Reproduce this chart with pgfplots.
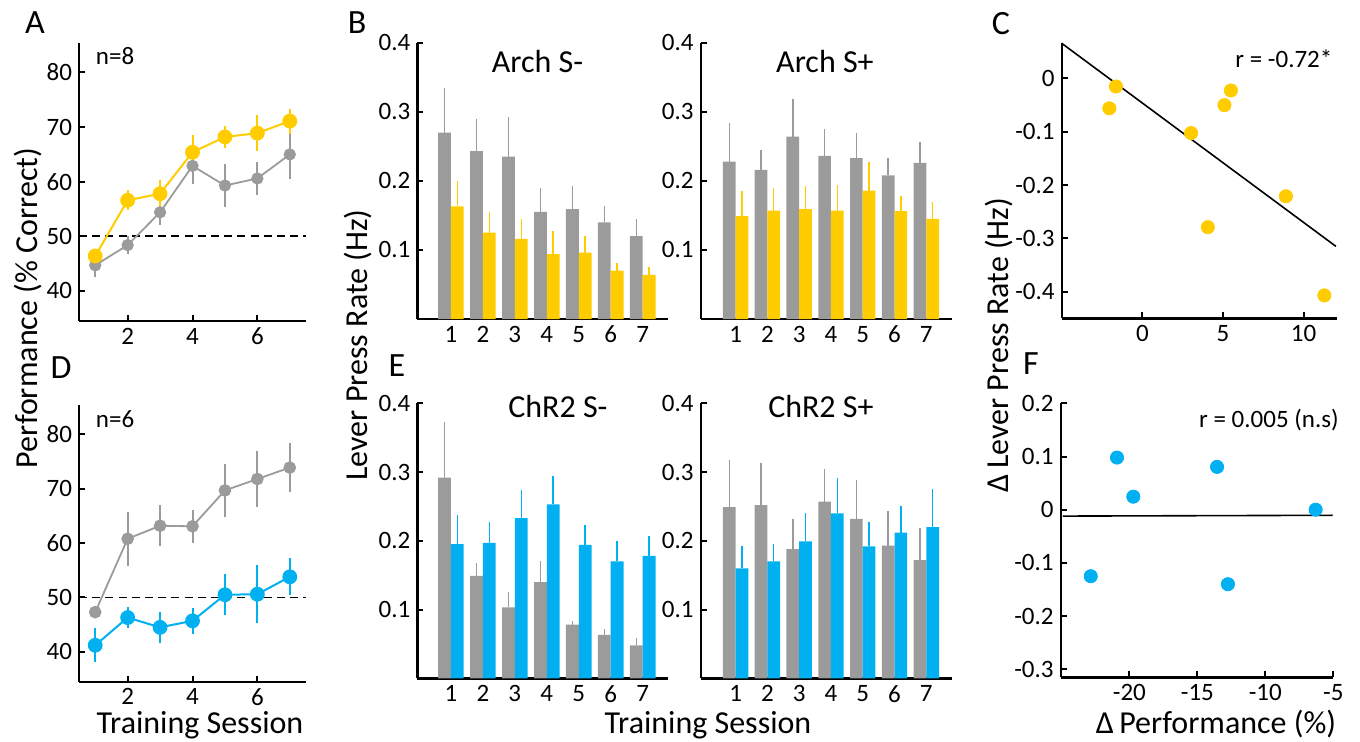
\documentclass[border=0pt]{standalone}
\usepackage{fontspec}
\setmainfont{Carlito}
\usepackage{pgfplots}
\pgfplotsset{compat=1.18}

\definecolor{gold}{RGB}{255,204,0}
\definecolor{sky}{RGB}{0,176,240}
\definecolor{midgray}{RGB}{155,155,155}

\tikzset{
  tbig/.style={font=\fontsize{16}{19}\selectfont},
  tlab/.style={font=\fontsize{17}{20}\selectfont},
  tsmall/.style={font=\fontsize{12.5}{15}\selectfont},
}

\pgfplotsset{
  panel/.style={
    scale only axis, anchor=south west, clip=false,
    axis x line*=bottom, axis y line*=left,
    axis line style={-, line width=1.2pt},
    tick align=inside, major tick length=3pt,
    every tick/.style={black, line width=1pt},
    tick label style={font=\fontsize{12.5}{15}\selectfont},
    /pgf/number format/assume math mode=true,
  },
  perfpanel/.style={panel, width=113.5pt, xmin=0.5, xmax=7.5, ymin=34.5, ymax=85.4,
    xtick={2,4,6}, ytick={40,50,60,70,80}},
  barpanel/.style={panel, width=125.5pt, xmax=7.8, ymin=0, ymax=0.4,
    xtick={1,...,7}, ytick={0.1,0.2,0.3,0.4}, yticklabels={0.1,0.2,0.3,0.4},
    xtick style={draw=none}},
  bars/.style={ybar, bar width=0.4, bar shift=0pt, fill=#1, draw=none,
    error bars/.cd, y dir=plus, y explicit, error mark=none,
    error bar style={#1, line width=0.7pt}},
  perf/.style 2 args={#1, line width=#2, mark=*, mark options={solid, fill=#1, draw=none},
    error bars/.cd, y dir=both, y explicit, error mark=none,
    error bar style={#1, line width=1pt}},
  chance/.style={black, line width=0.9pt, dash pattern=on 4pt off 2.6pt},
  dots/.style={only marks, #1, mark=*, mark size=3.3pt, mark options={fill=#1, draw=#1}},
}

\begin{document}
\begin{tikzpicture}
\path[use as bounding box] (0,0) rectangle (680pt,370.5pt);

% A
\begin{axis}[perfpanel, at={(39.5pt,210pt)}, height=139pt]
\addplot[chance] coordinates {(0.5,50) (7.5,50)};
\addplot[mark size=2.6pt, perf={midgray}{0.9pt}] table[y error=e] {
x y e
1 44.7 2.1
2 48.4 1.7
3 54.4 2.4
4 62.9 3.4
5 59.3 4.0
6 60.6 3.1
7 65.0 4.5
};
\addplot[mark size=3.2pt, perf={gold}{1pt}] table[y error=e] {
x y e
1 46.4 1.0
2 56.6 1.8
3 57.8 2.6
4 65.4 3.2
5 68.2 2.0
6 68.9 3.3
7 71.1 2.3
};
\node[tsmall] at (rel axis cs:0.159,0.954) {n=8};
\end{axis}

% D
\begin{axis}[perfpanel, at={(39.5pt,29.65pt)}, height=138.3pt]
\addplot[chance] coordinates {(0.5,50) (7.5,50)};
\addplot[mark size=2.7pt, perf={midgray}{0.9pt}] table[y error=e] {
x y e
1 47.3 0.8
2 60.8 5.0
3 63.2 3.8
4 63.1 3.0
5 69.7 4.8
6 71.8 5.1
7 73.9 4.5
};
\addplot[mark size=3.2pt, perf={sky}{1pt}] table[y error=e] {
x y e
1 41.2 3.1
2 46.3 2.0
3 44.5 2.9
4 45.7 2.4
5 50.5 3.8
6 50.6 5.3
7 53.8 3.4
};
\node[tsmall] at (rel axis cs:0.159,0.948) {n=6};
\end{axis}

% B left: Arch S-
\begin{axis}[barpanel, xmin=-0.05, at={(208.65pt,211pt)}, height=138.15pt]
\addplot[bars=midgray] table[y error=e] {
x y e
0.8 0.270 0.065
1.8 0.243 0.047
2.8 0.235 0.058
3.8 0.155 0.035
4.8 0.159 0.034
5.8 0.140 0.024
6.8 0.120 0.025
};
\addplot[bars=gold] table[y error=e] {
x y e
1.2 0.163 0.037
2.2 0.125 0.030
3.2 0.116 0.029
4.2 0.094 0.033
5.2 0.096 0.024
6.2 0.070 0.011
7.2 0.064 0.012
};
\node[tbig] at (rel axis cs:0.479,0.932) {Arch S-};
\end{axis}

% B right: Arch S+
\begin{axis}[barpanel, xmin=-0.1, at={(350.35pt,211pt)}, height=138.15pt]
\addplot[bars=midgray] table[y error=e] {
x y e
0.8 0.228 0.056
1.8 0.216 0.029
2.8 0.264 0.054
3.8 0.236 0.039
4.8 0.233 0.037
5.8 0.208 0.025
6.8 0.226 0.030
};
\addplot[bars=gold] table[y error=e] {
x y e
1.2 0.149 0.036
2.2 0.157 0.032
3.2 0.159 0.033
4.2 0.157 0.037
5.2 0.186 0.042
6.2 0.156 0.022
7.2 0.145 0.024
};
\node[tbig] at (rel axis cs:0.495,0.932) {Arch S+};
\end{axis}

% E left: ChR2 S-
\begin{axis}[barpanel, xmin=-0.05, at={(208.65pt,31.35pt)}, height=137.5pt]
\addplot[bars=midgray] table[y error=e] {
x y e
0.8 0.292 0.081
1.8 0.149 0.019
2.8 0.103 0.022
3.8 0.140 0.030
4.8 0.078 0.005
5.8 0.063 0.009
6.8 0.048 0.010
};
\addplot[bars=sky] table[y error=e] {
x y e
1.2 0.195 0.042
2.2 0.197 0.030
3.2 0.233 0.041
4.2 0.253 0.041
5.2 0.194 0.029
6.2 0.170 0.029
7.2 0.178 0.029
};
\node[tbig] at (rel axis cs:0.56,0.99) {ChR2 S-};
\end{axis}

% E right: ChR2 S+
\begin{axis}[barpanel, xmin=-0.1, at={(350.35pt,31.35pt)}, height=137.5pt]
\addplot[bars=midgray] table[y error=e] {
x y e
0.8 0.249 0.068
1.8 0.252 0.061
2.8 0.188 0.043
3.8 0.257 0.048
4.8 0.232 0.057
5.8 0.193 0.051
6.8 0.172 0.046
};
\addplot[bars=sky] table[y error=e] {
x y e
1.2 0.160 0.032
2.2 0.170 0.026
3.2 0.199 0.042
4.2 0.240 0.052
5.2 0.192 0.035
6.2 0.212 0.039
7.2 0.220 0.056
};
\node[tbig] at (rel axis cs:0.479,0.99) {ChR2 S+};
\end{axis}

% C
\begin{axis}[panel, at={(530.85pt,211.35pt)}, width=137.5pt, height=137.5pt,
  xmin=-5, xmax=12.05, ymin=-0.45, ymax=0.066,
  xtick={0,5,10}, ytick={-0.4,-0.3,-0.2,-0.1,0},
  yticklabels={-0.4,-0.3,-0.2,-0.1,0}]
\addplot[black, line width=0.8pt] coordinates {(-5,0.066) (12,-0.315)};
\addplot[dots=gold] table {
x y
-1.64 -0.015
-2.05 -0.056
3.02 -0.1025
5.09 -0.050
5.49 -0.0225
4.06 -0.279
8.90 -0.221
11.28 -0.407
};
\node[tsmall] at (rel axis cs:0.808,0.945) {r = -0.72*};
\end{axis}

% F
\begin{axis}[panel, at={(530.35pt,31.85pt)}, width=136.3pt, height=137pt,
  xmin=-25.05, xmax=-5, ymin=-0.315, ymax=0.2,
  xtick={-20,-15,-10,-5}, xticklabels={-20,-15,-10,-5},
  ytick={-0.3,-0.2,-0.1,0,0.1,0.2},
  yticklabels={-0.3,-0.2,-0.1,0,0.1,0.2}]
\addplot[black, line width=0.8pt] coordinates {(-24.9,-0.012) (-5.05,-0.0105)};
\addplot[dots=sky] table {
x y
-22.84 -0.125
-20.91 0.098
-19.71 0.0245
-13.55 0.0805
-12.75 -0.140
-6.30 0.000
};
\node[tsmall] at (rel axis cs:0.764,0.939) {r = 0.005 (n.s)};
\end{axis}

% axis labels
\node[tbig, rotate=90, anchor=base] at (19pt,216.5pt) {Performance (\% Correct)};
\node[tbig, rotate=90, anchor=base] at (183.5pt,198pt) {Lever Press Rate (Hz)};
\node[tbig, rotate=90, anchor=base] at (504pt,198pt) {Δ\,Lever Press Rate (Hz)};
\node[tbig, anchor=base] at (100pt,4pt) {Training Session};
\node[tbig, anchor=base] at (354pt,4pt) {Training Session};
\node[tbig, anchor=base] at (608pt,4pt) {Δ\,Performance (\%)};

% panel letters
\node[tlab] at (17.5pt,359pt) {A};
\node[tlab] at (178.5pt,359pt) {B};
\node[tlab] at (500.5pt,358.5pt) {C};
\node[tlab] at (30.5pt,186.5pt) {D};
\node[tlab] at (198.5pt,187.5pt) {E};
\node[tlab] at (515.5pt,188.5pt) {F};
\end{tikzpicture}
\end{document}
